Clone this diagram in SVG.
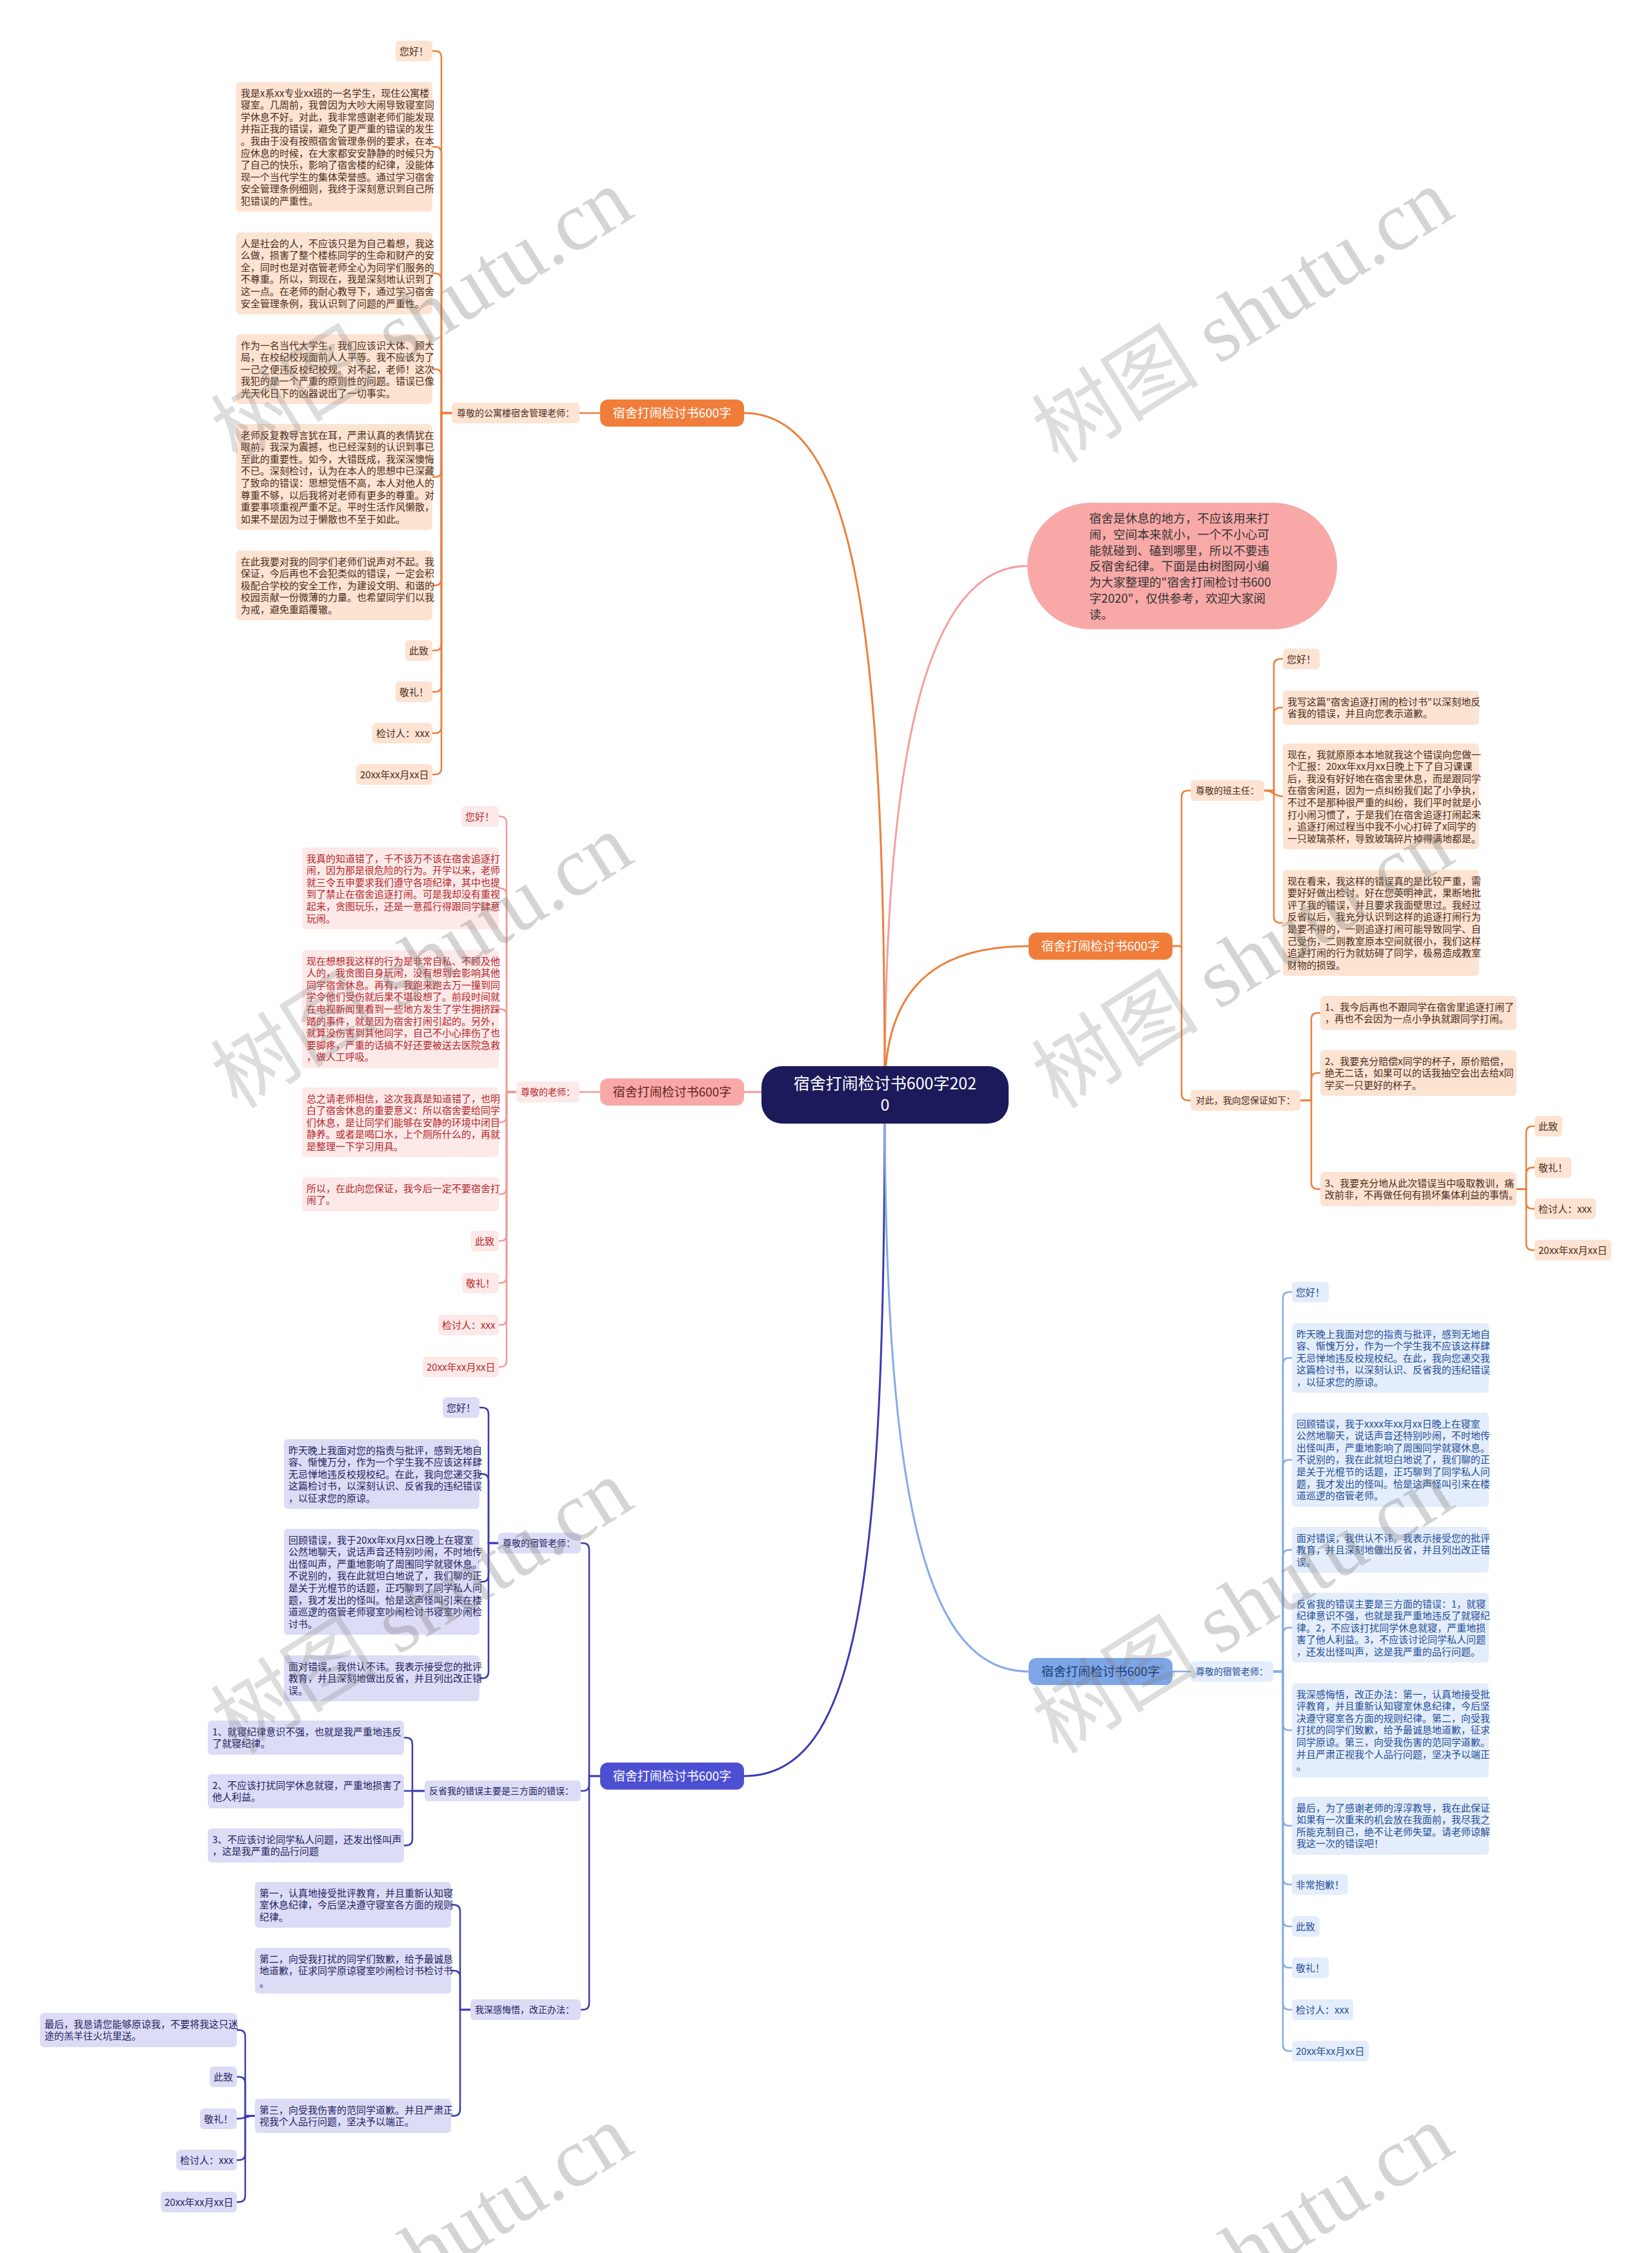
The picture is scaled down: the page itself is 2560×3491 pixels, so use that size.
<svg xmlns="http://www.w3.org/2000/svg" width="2560" height="3491" viewBox="0 0 2560 3491">
<style>
text{font-family:"Noto Sans CJK SC","Noto Sans",sans-serif;font-size:15px}
.lb text{font-size:14px}
.o rect{fill:#fde3d2}.o text{fill:#4a2d1a}
.p rect{fill:#fde9e8}.p text{fill:#b3272b}
.i rect{fill:#dcdcf7}.i text{fill:#1f1f5c}
.b rect{fill:#e4edfb}.b text{fill:#1f4d98}
.ln{fill:none;stroke-width:2.5;stroke-linecap:round}
.mc{fill:none;stroke-width:3}
.lo{stroke:#ec7f3d}.lp{stroke:#ee9c99}.li{stroke:#3b3bb0}.lq{stroke:#86aae6}
.br text{font-size:19px;text-anchor:middle}
.rt{font-size:25px;fill:#ffffff;text-anchor:middle}
.it{font-size:18.6px;fill:#333333}
.wm text{font-family:"Liberation Serif","Noto Sans CJK SC",serif;font-size:130px;fill:#7a7a7a;fill-opacity:.32}
.wm .cj{fill-opacity:.26}
</style>
<rect width="2560" height="3491" fill="#ffffff"/>
<g id="connectors">
<path class="mc" stroke="#f3a09e" stroke-width="2" d="M1371 1690C1371 1150 1440 877 1592 877"/>
<path class="mc lo" d="M1371 1690C1371 1000 1330 640 1153 640"/>
<path class="mc lp" d="M1371 1692L1153 1692"/>
<path class="mc li" d="M1371 1700C1371 2450 1330 2752 1153 2752"/>
<path class="mc lo" d="M1371 1690C1371 1530 1450 1466 1594 1466"/>
<path class="mc lq" d="M1371 1700C1371 2350 1440 2590 1594 2590"/>
<g class="ln lo">
<path d="M898 640H930"/>
<path d="M700 640H684V89Q684 79 674 79H670"/>
<path d="M700 640H684V237.5Q684 227.5 674 227.5H670"/>
<path d="M700 640H684V433.5Q684 423.5 674 423.5H670"/>
<path d="M700 640H684V582Q684 572 674 572H670"/>
<path d="M700 640H684V729Q684 739 674 739H670"/>
<path d="M700 640H684V897Q684 907 674 907H670"/>
<path d="M700 640H684V998Q684 1008 674 1008H670"/>
<path d="M700 640H684V1062Q684 1072 674 1072H670"/>
<path d="M700 640H684V1126Q684 1136 674 1136H670"/>
<path d="M700 640H684V1190Q684 1200 674 1200H670"/>
<path d="M1816 1466H1831V1235Q1831 1225 1841 1225H1845"/>
<path d="M1816 1466H1831V1695Q1831 1705 1841 1705H1845"/>
<path d="M1959 1225H1974V1031Q1974 1021 1984 1021H1988"/>
<path d="M1959 1225H1974V1106.5Q1974 1096.5 1984 1096.5H1988"/>
<path d="M1959 1225C1974 1225 1974 1234 1988 1234"/>
<path d="M1959 1225H1974V1420Q1974 1430 1984 1430H1988"/>
<path d="M2015 1705H2032V1579.5Q2032 1569.5 2042 1569.5H2046"/>
<path d="M2015 1705H2032V1672.5Q2032 1662.5 2042 1662.5H2046"/>
<path d="M2015 1705H2032V1832.5Q2032 1842.5 2042 1842.5H2046"/>
<path d="M2350 1842.5H2365V1755Q2365 1745 2375 1745H2378"/>
<path d="M2350 1842.5H2365V1819Q2365 1809 2375 1809H2378"/>
<path d="M2350 1842.5H2365V1863Q2365 1873 2375 1873H2378"/>
<path d="M2350 1842.5H2365V1927Q2365 1937 2375 1937H2378"/>
</g>
<g class="ln lp">
<path d="M898 1692H930"/>
<path d="M800 1692H785V1275Q785 1265 775 1265H773"/>
<path d="M800 1692H785V1386.5Q785 1376.5 775 1376.5H773"/>
<path d="M800 1692H785V1573.5Q785 1563.5 775 1563.5H773"/>
<path d="M800 1692H785V1729Q785 1739 775 1739H773"/>
<path d="M800 1692H785V1840.5Q785 1850.5 775 1850.5H773"/>
<path d="M800 1692H785V1913Q785 1923 775 1923H773"/>
<path d="M800 1692H785V1978Q785 1988 775 1988H773"/>
<path d="M800 1692H785V2043Q785 2053 775 2053H773"/>
<path d="M800 1692H785V2108Q785 2118 775 2118H773"/>
</g>
<g class="ln li">
<path d="M930 2752H913V2401Q913 2391 903 2391H900"/>
<path d="M930 2752H913V2765Q913 2775 903 2775H900"/>
<path d="M930 2752H913V3104Q913 3114 903 3114H900"/>
<path d="M772 2391H757V2191Q757 2181 747 2181H743"/>
<path d="M772 2391H757V2294Q757 2284 747 2284H743"/>
<path d="M772 2391H757V2441Q757 2451 747 2451H743"/>
<path d="M772 2391H757V2590.5Q757 2600.5 747 2600.5H743"/>
<path d="M658 2775H639V2702.5Q639 2692.5 629 2692.5H626"/>
<path d="M658 2775H626"/>
<path d="M658 2775H639V2849.5Q639 2859.5 629 2859.5H626"/>
<path d="M729 3114H713V2961.5Q713 2951.5 703 2951.5H699"/>
<path d="M729 3114H713V3063.5Q713 3053.5 703 3053.5H699"/>
<path d="M729 3114H713V3268.5Q713 3278.5 703 3278.5H699"/>
<path d="M395 3278.5H380V3155.5Q380 3145.5 370 3145.5H367"/>
<path d="M395 3278.5H380V3228Q380 3218 370 3218H367"/>
<path d="M395 3278.5C381 3278.5 381 3283 367 3283"/>
<path d="M395 3278.5H380V3337Q380 3347 370 3347H367"/>
<path d="M395 3278.5H380V3402Q380 3412 370 3412H367"/>
</g>
<g class="ln lq">
<path d="M1816 2590H1845"/>
<path d="M1973 2590H1988V2012Q1988 2002 1998 2002H2002"/>
<path d="M1973 2590H1988V2114Q1988 2104 1998 2104H2002"/>
<path d="M1973 2590H1988V2272Q1988 2262 1998 2262H2002"/>
<path d="M1973 2590H1988V2411.5Q1988 2401.5 1998 2401.5H2002"/>
<path d="M1973 2590H1988V2532Q1988 2522 1998 2522H2002"/>
<path d="M1973 2590H1988V2671Q1988 2681 1998 2681H2002"/>
<path d="M1973 2590H1988V2819Q1988 2829 1998 2829H2002"/>
<path d="M1973 2590H1988V2910Q1988 2920 1998 2920H2002"/>
<path d="M1973 2590H1988V2975Q1988 2985 1998 2985H2002"/>
<path d="M1973 2590H1988V3039Q1988 3049 1998 3049H2002"/>
<path d="M1973 2590H1988V3104Q1988 3114 1998 3114H2002"/>
<path d="M1973 2590H1988V3168Q1988 3178 1998 3178H2002"/>
</g>
</g>

<g id="root"><rect x="1180" y="1652" width="383" height="89" rx="32" fill="#1c1a5b"/><text class="rt" x="1371.5" y="1688">宿舍打闹检讨书600字202</text><text class="rt" x="1371.5" y="1721">0</text></g>

<g id="intro"><rect x="1592" y="779" width="480" height="196" rx="98" fill="#f8a9a7"/><text class="it" x="1688" y="810"><tspan x="1688">宿舍是休息的地方，不应该用来打</tspan><tspan x="1688" dy="24.8">闹，空间本来就小，一个不小心可</tspan><tspan x="1688" dy="24.8">能就碰到、磕到哪里，所以不要违</tspan><tspan x="1688" dy="24.8">反宿舍纪律。下面是由树图网小编</tspan><tspan x="1688" dy="24.8">为大家整理的"宿舍打闹检讨书600</tspan><tspan x="1688" dy="24.8">字2020"，仅供参考，欢迎大家阅</tspan><tspan x="1688" dy="24.8">读。</tspan></text></g>

<g id="branch1" class="br"><rect x="930" y="619" width="223" height="42" rx="12" fill="#f07d3a"/><text x="1041.5" y="646.8" fill="#ffffff">宿舍打闹检讨书600字</text></g>
<g id="branch2" class="br"><rect x="930" y="1671" width="223" height="42" rx="12" fill="#f8a9a7"/><text x="1041.5" y="1698.8" fill="#6b2222">宿舍打闹检讨书600字</text></g>
<g id="branch3" class="br"><rect x="930" y="2731" width="223" height="42" rx="12" fill="#4d4fd3"/><text x="1041.5" y="2758.8" fill="#ffffff">宿舍打闹检讨书600字</text></g>
<g id="branch4" class="br"><rect x="1594" y="1445" width="223" height="42" rx="12" fill="#f07d3a"/><text x="1705.5" y="1472.8" fill="#ffffff">宿舍打闹检讨书600字</text></g>
<g id="branch5" class="br"><rect x="1594" y="2569" width="223" height="42" rx="12" fill="#7ea6e6"/><text x="1705.5" y="2596.8" fill="#1a3a78">宿舍打闹检讨书600字</text></g>

<!-- branch 1 -->
<g id="l1" class="o lb"><rect x="700" y="624" width="198" height="32" rx="6"/><text x="708" y="645">尊敬的公寓楼宿舍管理老师：</text></g>
<g id="o1" class="o"><rect x="613" y="63" width="57" height="32" rx="6"/><text x="619" y="84.5">您好！</text></g>
<g id="o2" class="o"><rect x="366" y="127" width="304" height="201" rx="6"/><text x="373" y="149.5"><tspan x="373">我是x系xx专业xx班的一名学生，现住公寓楼</tspan><tspan x="373" dy="18.6">寝室。几周前，我曾因为大吵大闹导致寝室同</tspan><tspan x="373" dy="18.6">学休息不好。对此，我非常感谢老师们能发现</tspan><tspan x="373" dy="18.6">并指正我的错误，避免了更严重的错误的发生</tspan><tspan x="373" dy="18.6">。我由于没有按照宿舍管理条例的要求，在本</tspan><tspan x="373" dy="18.6">应休息的时候，在大家都安安静静的时候只为</tspan><tspan x="373" dy="18.6">了自己的快乐，影响了宿舍楼的纪律，没能体</tspan><tspan x="373" dy="18.6">现一个当代学生的集体荣誉感。通过学习宿舍</tspan><tspan x="373" dy="18.6">安全管理条例细则，我终于深刻意识到自己所</tspan><tspan x="373" dy="18.6">犯错误的严重性。</tspan></text></g>
<g id="o3" class="o"><rect x="366" y="360" width="304" height="127" rx="6"/><text x="373" y="382.5"><tspan x="373">人是社会的人，不应该只是为自己着想，我这</tspan><tspan x="373" dy="18.6">么做，损害了整个楼栋同学的生命和财产的安</tspan><tspan x="373" dy="18.6">全，同时也是对宿管老师全心为同学们服务的</tspan><tspan x="373" dy="18.6">不尊重。所以，到现在，我是深刻地认识到了</tspan><tspan x="373" dy="18.6">这一点。在老师的耐心教导下，通过学习宿舍</tspan><tspan x="373" dy="18.6">安全管理条例，我认识到了问题的严重性。</tspan></text></g>
<g id="o4" class="o"><rect x="366" y="518" width="304" height="108" rx="6"/><text x="373" y="540.5"><tspan x="373">作为一名当代大学生，我们应该识大体、顾大</tspan><tspan x="373" dy="18.6">局，在校纪校规面前人人平等。我不应该为了</tspan><tspan x="373" dy="18.6">一己之便违反校纪校规。对不起，老师！这次</tspan><tspan x="373" dy="18.6">我犯的是一个严重的原则性的问题。错误已像</tspan><tspan x="373" dy="18.6">光天化日下的凶器说出了一切事实。</tspan></text></g>
<g id="o5" class="o"><rect x="366" y="657" width="304" height="164" rx="6"/><text x="373" y="679.5"><tspan x="373">老师反复教导言犹在耳，严肃认真的表情犹在</tspan><tspan x="373" dy="18.6">眼前，我深为震撼，也已经深刻的认识到事已</tspan><tspan x="373" dy="18.6">至此的重要性。如今，大错既成，我深深懊悔</tspan><tspan x="373" dy="18.6">不已。深刻检讨，认为在本人的思想中已深藏</tspan><tspan x="373" dy="18.6">了致命的错误：思想觉悟不高，本人对他人的</tspan><tspan x="373" dy="18.6">尊重不够，以后我将对老师有更多的尊重。对</tspan><tspan x="373" dy="18.6">重要事项重视严重不足。平时生活作风懒散，</tspan><tspan x="373" dy="18.6">如果不是因为过于懒散也不至于如此。</tspan></text></g>
<g id="o6" class="o"><rect x="366" y="853" width="304" height="108" rx="6"/><text x="373" y="875.5"><tspan x="373">在此我要对我的同学们老师们说声对不起。我</tspan><tspan x="373" dy="18.6">保证，今后再也不会犯类似的错误，一定会积</tspan><tspan x="373" dy="18.6">极配合学校的安全工作，为建设文明、和谐的</tspan><tspan x="373" dy="18.6">校园贡献一份微薄的力量。也希望同学们以我</tspan><tspan x="373" dy="18.6">为戒，避免重蹈覆辙。</tspan></text></g>
<g id="o7" class="o"><rect x="628" y="992" width="42" height="32" rx="6"/><text x="634" y="1013.5">此致</text></g>
<g id="o8" class="o"><rect x="613" y="1056" width="57" height="32" rx="6"/><text x="619" y="1077.5">敬礼！</text></g>
<g id="o9" class="o"><rect x="577" y="1120" width="93" height="32" rx="6"/><text x="583" y="1141.5">检讨人：xxx</text></g>
<g id="o10" class="o"><rect x="552" y="1184" width="118" height="32" rx="6"/><text x="558" y="1205.5">20xx年xx月xx日</text></g>

<!-- branch 2 -->
<g id="l2" class="p lb"><rect x="800" y="1676" width="98" height="32" rx="6"/><text x="807" y="1697">尊敬的老师：</text></g>
<g id="p1" class="p"><rect x="715" y="1249" width="58" height="32" rx="6"/><text x="721" y="1270.5">您好！</text></g>
<g id="p2" class="p"><rect x="468" y="1313" width="305" height="127" rx="6"/><text x="475" y="1335.5"><tspan x="475">我真的知道错了，千不该万不该在宿舍追逐打</tspan><tspan x="475" dy="18.6">闹，因为那是很危险的行为。开学以来，老师</tspan><tspan x="475" dy="18.6">就三令五申要求我们遵守各项纪律，其中也提</tspan><tspan x="475" dy="18.6">到了禁止在宿舍追逐打闹。可是我却没有重视</tspan><tspan x="475" dy="18.6">起来，贪图玩乐，还是一意孤行得跟同学肆意</tspan><tspan x="475" dy="18.6">玩闹。</tspan></text></g>
<g id="p3" class="p"><rect x="468" y="1472" width="305" height="183" rx="6"/><text x="475" y="1494.5"><tspan x="475">现在想想我这样的行为是非常自私、不顾及他</tspan><tspan x="475" dy="18.6">人的，我贪图自身玩闹，没有想到会影响其他</tspan><tspan x="475" dy="18.6">同学宿舍休息。再有，我跑来跑去万一撞到同</tspan><tspan x="475" dy="18.6">学令他们受伤就后果不堪设想了。前段时间就</tspan><tspan x="475" dy="18.6">在电视新闻里看到一些地方发生了学生拥挤踩</tspan><tspan x="475" dy="18.6">踏的事件，就是因为宿舍打闹引起的。另外，</tspan><tspan x="475" dy="18.6">就算没伤害到其他同学，自己不小心摔伤了也</tspan><tspan x="475" dy="18.6">要脚疼，严重的话搞不好还要被送去医院急救</tspan><tspan x="475" dy="18.6">，做人工呼吸。</tspan></text></g>
<g id="p4" class="p"><rect x="468" y="1685" width="305" height="108" rx="6"/><text x="475" y="1707.5"><tspan x="475">总之请老师相信，这次我真是知道错了，也明</tspan><tspan x="475" dy="18.6">白了宿舍休息的重要意义：所以宿舍要给同学</tspan><tspan x="475" dy="18.6">们休息，是让同学们能够在安静的环境中闭目</tspan><tspan x="475" dy="18.6">静养。或者是喝口水，上个厕所什么的，再就</tspan><tspan x="475" dy="18.6">是整理一下学习用具。</tspan></text></g>
<g id="p5" class="p"><rect x="468" y="1824" width="305" height="53" rx="6"/><text x="475" y="1846.5"><tspan x="475">所以，在此向您保证，我今后一定不要宿舍打</tspan><tspan x="475" dy="18.6">闹了。</tspan></text></g>
<g id="p6" class="p"><rect x="730" y="1907" width="43" height="32" rx="6"/><text x="736" y="1928.5">此致</text></g>
<g id="p7" class="p"><rect x="716" y="1972" width="57" height="32" rx="6"/><text x="722" y="1993.5">敬礼！</text></g>
<g id="p8" class="p"><rect x="679" y="2037" width="94" height="32" rx="6"/><text x="685" y="2058.5">检讨人：xxx</text></g>
<g id="p9" class="p"><rect x="655" y="2102" width="118" height="32" rx="6"/><text x="661" y="2123.5">20xx年xx月xx日</text></g>

<!-- branch 3 -->
<g id="l3a" class="i lb"><rect x="772" y="2375" width="128" height="32" rx="6"/><text x="779" y="2396">尊敬的宿管老师：</text></g>
<g id="i1" class="i"><rect x="686" y="2165" width="57" height="32" rx="6"/><text x="692" y="2186.5">您好！</text></g>
<g id="i2" class="i"><rect x="440" y="2230" width="303" height="108" rx="6"/><text x="447" y="2252.5"><tspan x="447">昨天晚上我面对您的指责与批评，感到无地自</tspan><tspan x="447" dy="18.6">容、惭愧万分，作为一个学生我不应该这样肆</tspan><tspan x="447" dy="18.6">无忌惮地违反校规校纪。在此，我向您递交我</tspan><tspan x="447" dy="18.6">这篇检讨书，以深刻认识、反省我的违纪错误</tspan><tspan x="447" dy="18.6">，以征求您的原谅。</tspan></text></g>
<g id="i3" class="i"><rect x="440" y="2369" width="303" height="164" rx="6"/><text x="447" y="2391.5"><tspan x="447">回顾错误，我于20xx年xx月xx日晚上在寝室</tspan><tspan x="447" dy="18.6">公然地聊天，说话声音还特别吵闹，不时地传</tspan><tspan x="447" dy="18.6">出怪叫声，严重地影响了周围同学就寝休息。</tspan><tspan x="447" dy="18.6">不说别的，我在此就坦白地说了，我们聊的正</tspan><tspan x="447" dy="18.6">是关于光棍节的话题，正巧聊到了同学私人问</tspan><tspan x="447" dy="18.6">题，我才发出的怪叫。恰是这声怪叫引来在楼</tspan><tspan x="447" dy="18.6">道巡逻的宿管老师寝室吵闹检讨书寝室吵闹检</tspan><tspan x="447" dy="18.6">讨书。</tspan></text></g>
<g id="i4" class="i"><rect x="440" y="2565" width="303" height="71" rx="6"/><text x="447" y="2587.5"><tspan x="447">面对错误，我供认不讳。我表示接受您的批评</tspan><tspan x="447" dy="18.6">教育，并且深刻地做出反省，并且列出改正错</tspan><tspan x="447" dy="18.6">误。</tspan></text></g>
<g id="l3b" class="i lb"><rect x="658" y="2759" width="242" height="32" rx="6"/><text x="665" y="2780">反省我的错误主要是三方面的错误：</text></g>
<g id="i5" class="i"><rect x="322" y="2666" width="304" height="53" rx="6"/><text x="329" y="2688.5"><tspan x="329">1、就寝纪律意识不强，也就是我严重地违反</tspan><tspan x="329" dy="18.6">了就寝纪律。</tspan></text></g>
<g id="i6" class="i"><rect x="322" y="2749" width="304" height="53" rx="6"/><text x="329" y="2771.5"><tspan x="329">2、不应该打扰同学休息就寝，严重地损害了</tspan><tspan x="329" dy="18.6">他人利益。</tspan></text></g>
<g id="i7" class="i"><rect x="322" y="2833" width="304" height="53" rx="6"/><text x="329" y="2855.5"><tspan x="329">3、不应该讨论同学私人问题，还发出怪叫声</tspan><tspan x="329" dy="18.6">，这是我严重的品行问题</tspan></text></g>
<g id="l3c" class="i lb"><rect x="729" y="3098" width="171" height="32" rx="6"/><text x="736" y="3119">我深感悔悟，改正办法：</text></g>
<g id="i8" class="i"><rect x="395" y="2916" width="304" height="71" rx="6"/><text x="402" y="2938.5"><tspan x="402">第一，认真地接受批评教育，并且重新认知寝</tspan><tspan x="402" dy="18.6">室休息纪律，今后坚决遵守寝室各方面的规则</tspan><tspan x="402" dy="18.6">纪律。</tspan></text></g>
<g id="i9" class="i"><rect x="395" y="3018" width="304" height="71" rx="6"/><text x="402" y="3040.5"><tspan x="402">第二，向受我打扰的同学们致歉，给予最诚恳</tspan><tspan x="402" dy="18.6">地道歉，征求同学原谅寝室吵闹检讨书检讨书</tspan><tspan x="402" dy="18.6">。</tspan></text></g>
<g id="i10" class="i"><rect x="395" y="3252" width="304" height="53" rx="6"/><text x="402" y="3274.5"><tspan x="402">第三，向受我伤害的范同学道歉。并且严肃正</tspan><tspan x="402" dy="18.6">视我个人品行问题，坚决予以端正。</tspan></text></g>
<g id="i11" class="i"><rect x="62" y="3119" width="305" height="53" rx="6"/><text x="69" y="3141.5"><tspan x="69">最后，我恳请您能够原谅我，不要将我这只迷</tspan><tspan x="69" dy="18.6">途的羔羊往火坑里送。</tspan></text></g>
<g id="i12" class="i"><rect x="325" y="3202" width="42" height="32" rx="6"/><text x="331" y="3223.5">此致</text></g>
<g id="i13" class="i"><rect x="310" y="3267" width="57" height="32" rx="6"/><text x="316" y="3288.5">敬礼！</text></g>
<g id="i14" class="i"><rect x="273" y="3331" width="94" height="32" rx="6"/><text x="279" y="3352.5">检讨人：xxx</text></g>
<g id="i15" class="i"><rect x="249" y="3396" width="118" height="32" rx="6"/><text x="255" y="3417.5">20xx年xx月xx日</text></g>

<!-- branch 4 -->
<g id="l4a" class="o lb"><rect x="1845" y="1209" width="114" height="32" rx="6"/><text x="1853" y="1230">尊敬的班主任：</text></g>
<g id="r1" class="o"><rect x="1988" y="1005" width="57" height="32" rx="6"/><text x="1994" y="1026.5">您好！</text></g>
<g id="r2" class="o"><rect x="1988" y="1070" width="304" height="53" rx="6"/><text x="1995" y="1092.5"><tspan x="1995">我写这篇"宿舍追逐打闹的检讨书"以深刻地反</tspan><tspan x="1995" dy="18.6">省我的错误，并且向您表示道歉。</tspan></text></g>
<g id="r3" class="o"><rect x="1988" y="1152" width="304" height="164" rx="6"/><text x="1995" y="1174.5"><tspan x="1995">现在，我就原原本本地就我这个错误向您做一</tspan><tspan x="1995" dy="18.6">个汇报：20xx年xx月xx日晚上下了自习课课</tspan><tspan x="1995" dy="18.6">后，我没有好好地在宿舍里休息，而是跟同学</tspan><tspan x="1995" dy="18.6">在宿舍闲逛，因为一点纠纷我们起了小争执，</tspan><tspan x="1995" dy="18.6">不过不是那种很严重的纠纷，我们平时就是小</tspan><tspan x="1995" dy="18.6">打小闹习惯了，于是我们在宿舍追逐打闹起来</tspan><tspan x="1995" dy="18.6">，追逐打闹过程当中我不小心打碎了x同学的</tspan><tspan x="1995" dy="18.6">一只玻璃茶杯，导致玻璃碎片掉得满地都是。</tspan></text></g>
<g id="r4" class="o"><rect x="1988" y="1348" width="304" height="164" rx="6"/><text x="1995" y="1370.5"><tspan x="1995">现在看来，我这样的错误真的是比较严重，需</tspan><tspan x="1995" dy="18.6">要好好做出检讨。好在您英明神武，果断地批</tspan><tspan x="1995" dy="18.6">评了我的错误，并且要求我面壁思过。我经过</tspan><tspan x="1995" dy="18.6">反省以后，我充分认识到这样的追逐打闹行为</tspan><tspan x="1995" dy="18.6">是要不得的，一则追逐打闹可能导致同学、自</tspan><tspan x="1995" dy="18.6">己受伤，二则教室原本空间就很小，我们这样</tspan><tspan x="1995" dy="18.6">追逐打闹的行为就妨碍了同学，极易造成教室</tspan><tspan x="1995" dy="18.6">财物的损毁。</tspan></text></g>
<g id="l4b" class="o lb"><rect x="1845" y="1689" width="170" height="32" rx="6"/><text x="1853" y="1710">对此，我向您保证如下：</text></g>
<g id="r5" class="o"><rect x="2046" y="1543" width="304" height="53" rx="6"/><text x="2053" y="1565.5"><tspan x="2053">1、我今后再也不跟同学在宿舍里追逐打闹了</tspan><tspan x="2053" dy="18.6">，再也不会因为一点小争执就跟同学打闹。</tspan></text></g>
<g id="r6" class="o"><rect x="2046" y="1627" width="304" height="71" rx="6"/><text x="2053" y="1649.5"><tspan x="2053">2、我要充分赔偿x同学的杯子，原价赔偿，</tspan><tspan x="2053" dy="18.6">绝无二话，如果可以的话我抽空会出去给x同</tspan><tspan x="2053" dy="18.6">学买一只更好的杯子。</tspan></text></g>
<g id="r7" class="o"><rect x="2046" y="1816" width="304" height="53" rx="6"/><text x="2053" y="1838.5"><tspan x="2053">3、我要充分地从此次错误当中吸取教训，痛</tspan><tspan x="2053" dy="18.6">改前非，不再做任何有损坏集体利益的事情。</tspan></text></g>
<g id="r8" class="o"><rect x="2378" y="1729" width="43" height="32" rx="6"/><text x="2384" y="1750.5">此致</text></g>
<g id="r9" class="o"><rect x="2378" y="1793" width="57" height="32" rx="6"/><text x="2384" y="1814.5">敬礼！</text></g>
<g id="r10" class="o"><rect x="2378" y="1857" width="95" height="32" rx="6"/><text x="2384" y="1878.5">检讨人：xxx</text></g>
<g id="r11" class="o"><rect x="2378" y="1921" width="119" height="32" rx="6"/><text x="2384" y="1942.5">20xx年xx月xx日</text></g>

<!-- branch 5 -->
<g id="l5" class="b lb"><rect x="1845" y="2574" width="128" height="32" rx="6"/><text x="1853" y="2595">尊敬的宿管老师：</text></g>
<g id="s1" class="b"><rect x="2002" y="1986" width="57" height="32" rx="6"/><text x="2008" y="2007.5">您好！</text></g>
<g id="s2" class="b"><rect x="2002" y="2050" width="305" height="108" rx="6"/><text x="2009" y="2072.5"><tspan x="2009">昨天晚上我面对您的指责与批评，感到无地自</tspan><tspan x="2009" dy="18.6">容、惭愧万分，作为一个学生我不应该这样肆</tspan><tspan x="2009" dy="18.6">无忌惮地违反校规校纪。在此，我向您递交我</tspan><tspan x="2009" dy="18.6">这篇检讨书，以深刻认识、反省我的违纪错误</tspan><tspan x="2009" dy="18.6">，以征求您的原谅。</tspan></text></g>
<g id="s3" class="b"><rect x="2002" y="2189" width="305" height="146" rx="6"/><text x="2009" y="2211.5"><tspan x="2009">回顾错误，我于xxxx年xx月xx日晚上在寝室</tspan><tspan x="2009" dy="18.6">公然地聊天，说话声音还特别吵闹，不时地传</tspan><tspan x="2009" dy="18.6">出怪叫声，严重地影响了周围同学就寝休息。</tspan><tspan x="2009" dy="18.6">不说别的，我在此就坦白地说了，我们聊的正</tspan><tspan x="2009" dy="18.6">是关于光棍节的话题，正巧聊到了同学私人问</tspan><tspan x="2009" dy="18.6">题，我才发出的怪叫。恰是这声怪叫引来在楼</tspan><tspan x="2009" dy="18.6">道巡逻的宿管老师。</tspan></text></g>
<g id="s4" class="b"><rect x="2002" y="2366" width="305" height="71" rx="6"/><text x="2009" y="2388.5"><tspan x="2009">面对错误，我供认不讳。我表示接受您的批评</tspan><tspan x="2009" dy="18.6">教育，并且深刻地做出反省，并且列出改正错</tspan><tspan x="2009" dy="18.6">误。</tspan></text></g>
<g id="s5" class="b"><rect x="2002" y="2468" width="305" height="108" rx="6"/><text x="2009" y="2490.5"><tspan x="2009">反省我的错误主要是三方面的错误：1，就寝</tspan><tspan x="2009" dy="18.6">纪律意识不强，也就是我严重地违反了就寝纪</tspan><tspan x="2009" dy="18.6">律。2，不应该打扰同学休息就寝，严重地损</tspan><tspan x="2009" dy="18.6">害了他人利益。3，不应该讨论同学私人问题</tspan><tspan x="2009" dy="18.6">，还发出怪叫声，这是我严重的品行问题。</tspan></text></g>
<g id="s6" class="b"><rect x="2002" y="2608" width="305" height="146" rx="6"/><text x="2009" y="2630.5"><tspan x="2009">我深感悔悟，改正办法：第一，认真地接受批</tspan><tspan x="2009" dy="18.6">评教育，并且重新认知寝室休息纪律，今后坚</tspan><tspan x="2009" dy="18.6">决遵守寝室各方面的规则纪律。第二，向受我</tspan><tspan x="2009" dy="18.6">打扰的同学们致歉，给予最诚恳地道歉，征求</tspan><tspan x="2009" dy="18.6">同学原谅。第三，向受我伤害的范同学道歉。</tspan><tspan x="2009" dy="18.6">并且严肃正视我个人品行问题，坚决予以端正</tspan><tspan x="2009" dy="18.6">。</tspan></text></g>
<g id="s7" class="b"><rect x="2002" y="2784" width="305" height="90" rx="6"/><text x="2009" y="2806.5"><tspan x="2009">最后，为了感谢老师的淳淳教导，我在此保证</tspan><tspan x="2009" dy="18.6">如果有一次重来的机会放在我面前，我尽我之</tspan><tspan x="2009" dy="18.6">所能克制自己，绝不让老师失望。请老师谅解</tspan><tspan x="2009" dy="18.6">我这一次的错误吧！</tspan></text></g>
<g id="s8" class="b"><rect x="2002" y="2904" width="87" height="32" rx="6"/><text x="2008" y="2925.5">非常抱歉！</text></g>
<g id="s9" class="b"><rect x="2002" y="2969" width="43" height="32" rx="6"/><text x="2008" y="2990.5">此致</text></g>
<g id="s10" class="b"><rect x="2002" y="3033" width="57" height="32" rx="6"/><text x="2008" y="3054.5">敬礼！</text></g>
<g id="s11" class="b"><rect x="2002" y="3098" width="95" height="32" rx="6"/><text x="2008" y="3119.5">检讨人：xxx</text></g>
<g id="s12" class="b"><rect x="2002" y="3162" width="119" height="32" rx="6"/><text x="2008" y="3183.5">20xx年xx月xx日</text></g>

<g id="watermarks" class="wm">
<text x="368" y="720" transform="rotate(-32 368 720)"><tspan class="cj">树图</tspan> shutu.cn</text>
<text x="1640" y="720" transform="rotate(-32 1640 720)"><tspan class="cj">树图</tspan> shutu.cn</text>
<text x="368" y="1720" transform="rotate(-32 368 1720)"><tspan class="cj">树图</tspan> shutu.cn</text>
<text x="1640" y="1720" transform="rotate(-32 1640 1720)"><tspan class="cj">树图</tspan> shutu.cn</text>
<text x="368" y="2720" transform="rotate(-32 368 2720)"><tspan class="cj">树图</tspan> shutu.cn</text>
<text x="1640" y="2720" transform="rotate(-32 1640 2720)"><tspan class="cj">树图</tspan> shutu.cn</text>
<text x="368" y="3720" transform="rotate(-32 368 3720)"><tspan class="cj">树图</tspan> shutu.cn</text>
<text x="1640" y="3720" transform="rotate(-32 1640 3720)"><tspan class="cj">树图</tspan> shutu.cn</text>
</g>
</svg>
